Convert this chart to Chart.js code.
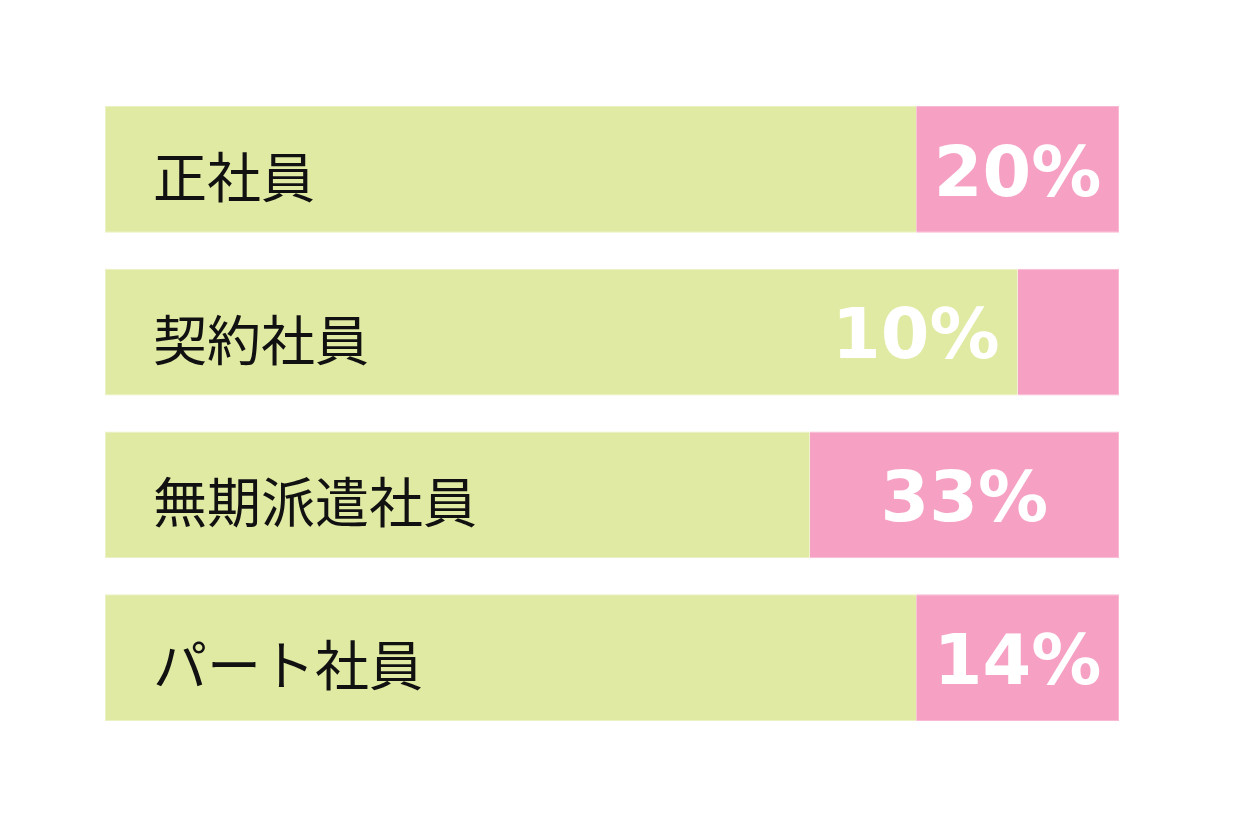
<!DOCTYPE html>
<html>
<head>
<meta charset="utf-8">
<script src="https://cdn.jsdelivr.net/npm/chart.js@4"></script>
<style>
  html, body { margin: 0; padding: 0; background: #fff; }
</style>
</head>
<body>
<canvas id="myChart" width="1254" height="823"></canvas>
<script>
let categories = ['正社員', '契約社員', '無期派遣社員', 'パート社員'];
// share of each bar as drawn (green part / pink part)
let greenShare = [80, 90, 69.5, 80];
let pinkShare = [20, 10, 30.5, 20];
let percentLabels = ['20%', '10%', '33%', '14%'];

let green = '#E0EAA3';
let pink = '#F6A1C3';

let labelPlugin = {
  id: 'barLabels',
  afterDatasetsDraw(chart) {
    let ctx = chart.ctx;
    let greenMeta = chart.getDatasetMeta(0);
    let pinkMeta = chart.getDatasetMeta(1);
    ctx.save();
    ctx.textBaseline = 'middle';
    greenMeta.data.forEach((bar, i) => {
      ctx.fillStyle = '#111';
      ctx.font = '54px "Noto Sans CJK JP"';
      ctx.textAlign = 'left';
      ctx.fillText(categories[i], bar.base + 48, bar.y + 8);

      let p = pinkMeta.data[i];
      ctx.font = 'bold 70px "DejaVu Sans"';
      ctx.fillStyle = '#fff';
      let w = ctx.measureText(percentLabels[i]).width;
      let pw = p.x - p.base;
      if (pw > w + 20) {
        ctx.textAlign = 'center';
        ctx.fillText(percentLabels[i], (p.x + p.base) / 2, p.y + 8);
      } else {
        ctx.textAlign = 'right';
        ctx.fillText(percentLabels[i], p.base - 18, p.y + 8);
      }
    });
    ctx.restore();
  }
};

let ctx1 = document.getElementById('myChart').getContext('2d');
let myChart = new Chart(ctx1, {
  type: 'bar',
  data: {
    labels: categories,
    datasets: [{
      data: greenShare,
      backgroundColor: green,
      borderColor: '#EAF1C2',
      borderWidth: 1,
      borderSkipped: 'end'
    }, {
      data: pinkShare,
      backgroundColor: pink,
      borderColor: '#F9B9D3',
      borderWidth: 1,
      borderSkipped: 'start'
    }]
  },
  options: {
    indexAxis: 'y',
    responsive: false,
    animation: false,
    layout: {
      padding: { left: 105, right: 135, top: 88, bottom: 84 }
    },
    datasets: {
      bar: { barPercentage: 0.78, categoryPercentage: 1 }
    },
    scales: {
      x: { stacked: true, min: 0, max: 100, display: false },
      y: { stacked: true, display: false }
    },
    plugins: {
      legend: { display: false },
      tooltip: { enabled: false }
    }
  },
  plugins: [labelPlugin]
});
</script>
</body>
</html>
